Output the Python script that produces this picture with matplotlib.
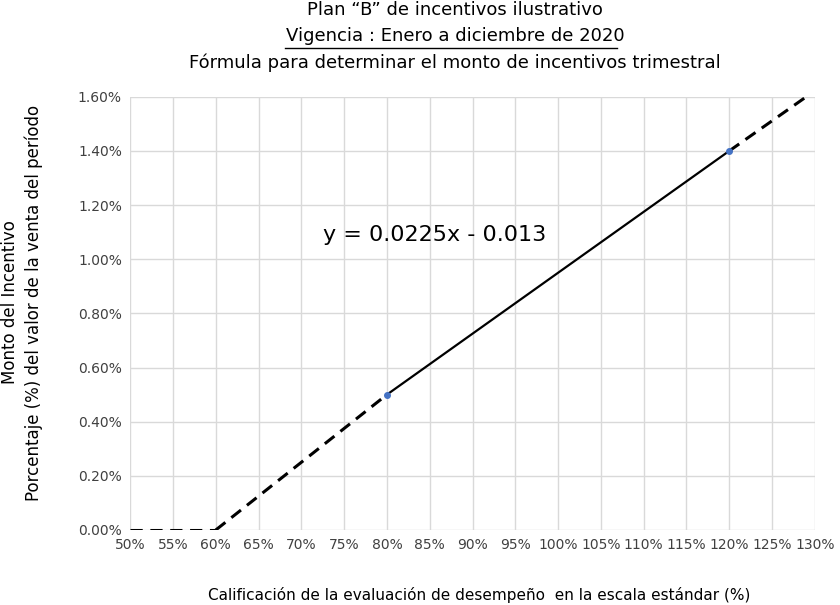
import matplotlib.pyplot as plt
from matplotlib.lines import Line2D
from matplotlib.ticker import FuncFormatter, MultipleLocator

# data (x = score fraction, y = incentive fraction)
flat_x = [0.50, 0.60]
flat_y = [0.0, 0.0]
ramp_x = [0.60, 0.80]
ramp_y = [0.0, 0.005]
solid_x = [0.80, 1.20]
solid_y = [0.005, 0.014]
ext_x = [1.20, 1.29]
ext_y = [0.014, 0.016]
pts_x = [0.80, 1.20]
pts_y = [0.005, 0.014]

fig = plt.figure(figsize=(8.4, 6.05), dpi=100)
ax = fig.add_axes([0.155, 0.124, 0.815, 0.716])

for xs, ys, ls in [(flat_x, flat_y, (0, (4, 2.5))), (ramp_x, ramp_y, (0, (4, 2.5))),
                   (solid_x, solid_y, '-'), (ext_x, ext_y, (0, (4, 2.5)))]:
    ax.plot(xs, ys, color='black', lw=2.2 if ls != '-' else 1.6, linestyle=ls, zorder=3)
ax.plot(pts_x, pts_y, 'o', color='#4472c4', ms=4, zorder=4)

ax.set_xlim(0.5, 1.3)
ax.set_ylim(0, 0.016)
ax.xaxis.set_major_locator(MultipleLocator(0.05))
ax.yaxis.set_major_locator(MultipleLocator(0.002))
ax.xaxis.set_major_formatter(FuncFormatter(lambda v, p: f"{v*100:.0f}%"))
ax.yaxis.set_major_formatter(FuncFormatter(lambda v, p: f"{v*100:.2f}%"))
ax.grid(True, color='#d9d9d9', lw=1)
ax.set_axisbelow(True)
for s in ax.spines.values():
    s.set_visible(False)
ax.tick_params(length=0, labelsize=10, colors='#404040', pad=6)

ax.text(0.856, 0.0109, "y = 0.0225x - 0.013", fontsize=16, ha='center', va='center')

fig.text(0.542, 0.983, "Plan \u201cB\u201d de incentivos ilustrativo", ha='center', va='center', fontsize=13)
fig.text(0.542, 0.940, "Vigencia : Enero a diciembre de 2020", ha='center', va='center', fontsize=13)
fig.add_artist(Line2D([0.339, 0.735], [0.920, 0.920], color='black', lw=1))
fig.text(0.542, 0.897, "Fórmula para determinar el monto de incentivos trimestral", ha='center', va='center', fontsize=13)

fig.text(0.012, 0.50, "Monto del Incentivo", rotation=90, ha='center', va='center', fontsize=12)
fig.text(0.040, 0.50, "Porcentaje (%) del valor de la venta del período", rotation=90, ha='center', va='center', fontsize=12)
fig.text(0.57, 0.016, "Calificación de la evaluación de desempeño  en la escala estándar (%)", ha='center', va='center', fontsize=11)

fig.savefig("out.png", dpi=100, facecolor='white')
